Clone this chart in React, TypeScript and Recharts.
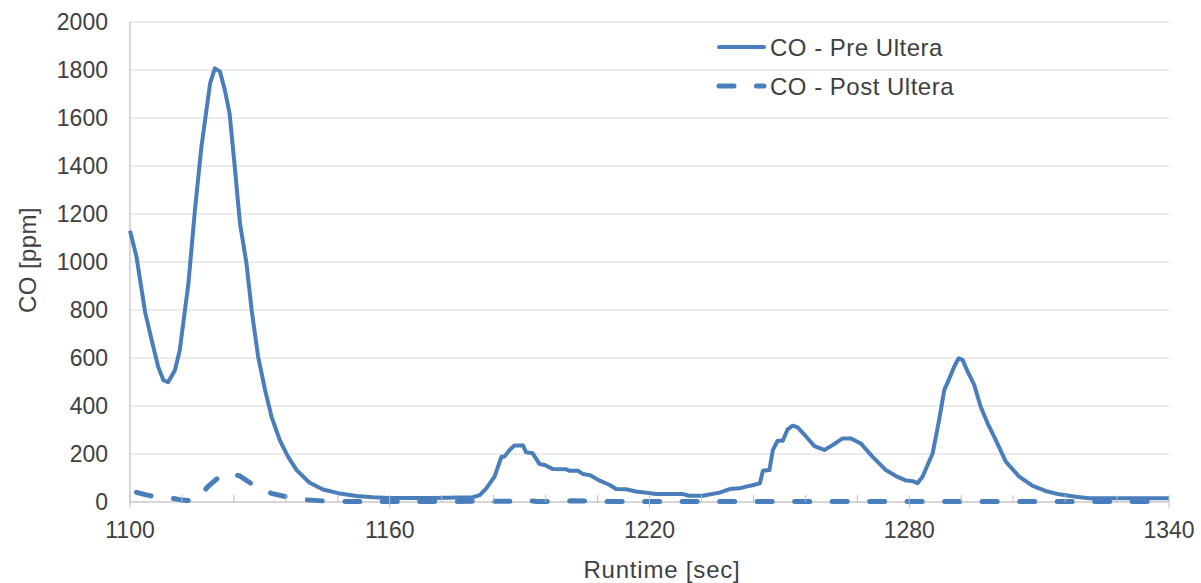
import React from 'react';
import { LineChart, Line, XAxis, YAxis, CartesianGrid, Legend, Label } from 'recharts';

const PRE_NAME = 'CO - Pre Ultera';
const POST_NAME = 'CO - Post Ultera';

const preTime = [
  1100, 1101.5, 1103.5, 1105, 1106.5, 1107.7, 1108.8, 1110.4, 1111.5, 1113.5,
  1115, 1116.5, 1118.5, 1119.6, 1120.8, 1121.9, 1123, 1124.2, 1125.4, 1126.9,
  1128.1, 1129.6, 1131.2, 1132.7, 1134.6, 1136.5, 1138.5, 1140.4, 1141.5, 1144.6,
  1148.5, 1152.3, 1156.2, 1160, 1170, 1179.2, 1180.8, 1182.3, 1184.2, 1185,
  1185.8, 1186.5, 1187.7, 1188.8, 1190.8, 1191.5, 1193, 1194.6, 1195.8, 1197.7,
  1200.8, 1201.5, 1203.5, 1204.6, 1206.2, 1208.5, 1210.8, 1212.3, 1214.6, 1216.9,
  1219.2, 1221.5, 1227.7, 1229.2, 1232.3, 1233.8, 1236.2, 1238.5, 1240.8, 1242.3,
  1243.8, 1245.5, 1246.2, 1247.7, 1248.5, 1249.6, 1250.8, 1251.9, 1253.1, 1254.2,
  1256.2, 1258.1, 1260.4, 1262.3, 1264.6, 1266.5, 1268.8, 1271.5, 1274.6, 1276.9,
  1279.2, 1280.8, 1281.9, 1283.1, 1285.4, 1286.9, 1288.1, 1289.1, 1290.4, 1291.4,
  1292.3, 1293.5, 1295, 1296.5, 1298.1, 1300, 1302.3, 1305.4, 1308.5, 1311.5,
  1314.6, 1318.5, 1321.5, 1340,
];
const preValues = [
  1130, 1022, 790, 675, 564, 508, 499, 550, 633, 911,
  1217, 1480, 1744, 1807, 1793, 1717, 1619, 1397, 1161, 995,
  800, 605, 467, 355, 258, 189, 133, 99, 80, 52,
  35, 25, 20, 17, 17, 20, 29, 57, 106, 147,
  189, 189, 217, 235, 235, 207, 203, 158, 154, 137,
  136, 130, 130, 117, 112, 89, 71, 54, 53, 44,
  39, 33, 33, 26, 26, 31, 39, 54, 57, 64,
  70, 78, 130, 133, 217, 255, 255, 303, 318, 311,
  272, 233, 217, 237, 265, 265, 244, 189, 133, 108,
  90, 87, 78, 106, 203, 342, 467, 508, 564, 599,
  592, 543, 488, 397, 328, 258, 168, 106, 67, 46,
  32, 22, 16, 16,
];

const postTime = [
  1101.5, 1103, 1105.8, 1108, 1110.4, 1112, 1114.2, 1115.5, 1118, 1120.8,
  1123, 1125.4, 1128.5, 1130.5, 1132.7, 1136.5, 1140, 1145, 1150, 1160,
  1170, 1180, 1190, 1192, 1194, 1200, 1202, 1210, 1340,
];
const postValues = [
  40, 33, 22, 18, 14, 8, 5, 12, 64, 108,
  120, 108, 71, 52, 36, 20, 10, 4, 2, 2,
  2, 3, 3, 6, 2, 2, 5, 2, 2,
];

const xTicks = [
  1100, 1112, 1124, 1136, 1148, 1160, 1172, 1184, 1196, 1208, 1220,
  1232, 1244, 1256, 1268, 1280, 1292, 1304, 1316, 1328, 1340,
];
const xLabels = [1100, 1160, 1220, 1280, 1340];
const yTicks = [0, 200, 400, 600, 800, 1000, 1200, 1400, 1600, 1800, 2000];

const preData = preTime.map((t, i) => ({ t, v: preValues[i] }));
const postData = postTime.map((t, i) => ({ t, v: postValues[i] }));

const BLUE = '#4a7ebb';
const TEXT = '#404040';
const FONT = '"Liberation Sans", Arial, Helvetica, sans-serif';
const DASH = '15 22.5';

const XTick = (props: any) => {
  const { x, y, payload } = props;
  const major = xLabels.includes(payload.value);
  return (
    <g>
      <line x1={x} x2={x} y1={y - 7} y2={major ? y + 6 : y} stroke="#bfbfbf" strokeWidth={1} />
      {major && (
        <text x={x} y={y + 28} dy="0.355em" textAnchor="middle" fill={TEXT} fontSize={23} fontFamily={FONT}>
          {payload.value}
        </text>
      )}
    </g>
  );
};

const LegendContent = () => (
  <svg width={320} height={90} style={{ display: 'block' }}>
    <line x1={19} x2={64} y1={22} y2={22} stroke={BLUE} strokeWidth={4} strokeLinecap="round" />
    <text x={70} y={22} dy="0.355em" fill={TEXT} fontSize={24} letterSpacing={0.5} fontFamily={FONT}>{PRE_NAME}</text>
    <line x1={19} x2={64} y1={61} y2={61} stroke={BLUE} strokeWidth={5} strokeLinecap="round" strokeDasharray={DASH} />
    <text x={70} y={61} dy="0.355em" fill={TEXT} fontSize={24} letterSpacing={0.5} fontFamily={FONT}>{POST_NAME}</text>
  </svg>
);

export default function App() {
  const lineZ: any = { zIndex: 900 };
  return (
    <div style={{ position: 'absolute', left: 0, top: 0, width: 1201, height: 583, background: '#fff' }}>
      <LineChart width={1201} height={583} margin={{ top: 22, right: 32, bottom: 0, left: 0 }}>
        <CartesianGrid vertical={false} stroke="#d9d9d9" strokeWidth={1.2} />
        <XAxis
          type="number"
          dataKey="t"
          domain={[1100, 1340]}
          ticks={xTicks}
          interval={0}
          height={81}
          tickSize={0}
          tickMargin={0}
          tickLine={false}
          axisLine={{ stroke: '#bfbfbf', strokeWidth: 1.2 }}
          tick={<XTick />}
        >
          <Label
            content={() => (
              <text x={662} y={569} dy="0.355em" textAnchor="middle" fill={TEXT} fontSize={24} letterSpacing={0.8} fontFamily={FONT}>
                Runtime [sec]
              </text>
            )}
          />
        </XAxis>
        <YAxis
          type="number"
          domain={[0, 2000]}
          ticks={yTicks}
          interval={0}
          width={130}
          tickSize={0}
          tickMargin={22}
          tickLine={false}
          axisLine={{ stroke: '#bfbfbf', strokeWidth: 1.2 }}
          tick={{ fill: TEXT, fontSize: 23, fontFamily: FONT }}
        >
          <Label
            content={() => (
              <text
                x={27}
                y={260}
                dy="0.355em"
                textAnchor="middle"
                fill={TEXT}
                fontSize={24}
                letterSpacing={0.4}
                fontFamily={FONT}
                transform="rotate(-90, 27, 260)"
              >
                CO [ppm]
              </text>
            )}
          />
        </YAxis>
        <Legend
          layout="vertical"
          align="center"
          verticalAlign="middle"
          wrapperStyle={{ left: 700, top: 25, width: 320, height: 90 }}
          content={<LegendContent />}
        />
        <Line
          {...lineZ}
          data={postData}
          dataKey="v"
          name={POST_NAME}
          type="linear"
          stroke={BLUE}
          strokeWidth={5}
          strokeLinecap="round"
          strokeDasharray={DASH}
          dot={false}
          activeDot={false}
          isAnimationActive={false}
        />
        <Line
          {...lineZ}
          data={preData}
          dataKey="v"
          name={PRE_NAME}
          type="linear"
          stroke={BLUE}
          strokeWidth={4}
          strokeLinejoin="round"
          dot={false}
          activeDot={false}
          isAnimationActive={false}
        />
      </LineChart>
    </div>
  );
}
